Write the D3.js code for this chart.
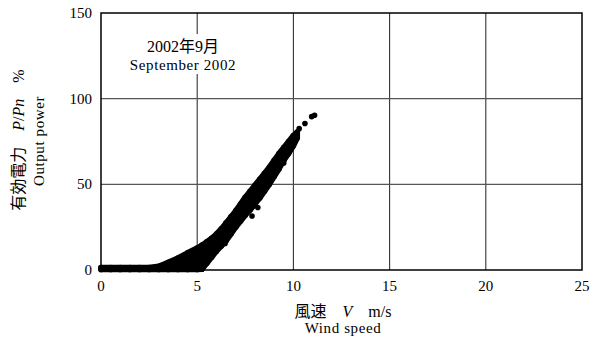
<!DOCTYPE html>
<html>
<head>
<meta charset="utf-8">
<script src="https://cdn.jsdelivr.net/npm/d3@7"></script>
<style>
  body { margin: 0; background: #fff; }
  svg { display: block; }
</style>
</head>
<body>
<div id="chart"></div>
<script>
// wind speed bins (m/s) with the upper and lower edge of the point cloud (% of rated power)
const windSpeed = [0, 0.5, 1, 1.5, 2, 2.5, 3, 3.5, 4, 4.5, 5, 5.25, 5.5, 5.75, 6, 6.25, 6.5, 6.75, 7, 7.25, 7.5, 7.75, 8, 8.25, 8.5, 8.75, 9, 9.25, 9.5, 9.75, 10, 10.2]
const powerUpper = [1.5, 1.5, 1.4, 1.4, 1.4, 1.5, 2.2, 4.5, 7, 10, 12.8, 14.5, 16.5, 18.5, 21, 24, 27.5, 31, 34.5, 38.5, 42.5, 46, 49.5, 53, 56.5, 60, 64, 68, 71.5, 75, 78.5, 80.5]
const powerLower = [0.3, 0.3, 0.3, 0.3, 0.3, 0.3, 0.3, 0.3, 0.3, 0.3, 0.3, 0.5, 4, 7.5, 11, 14, 17, 21, 25, 28.5, 32, 35, 38.5, 42, 46, 50, 54.5, 59, 64, 68, 72.5, 77]

// isolated points just outside the dense cloud
const outlierSpeed = [5.33, 6.45, 7.85, 8.15, 9.5, 10.05, 10.3, 10.6, 10.95, 11.1]
const outlierPower = [2.9, 15.5, 31.5, 36.5, 62.5, 77.5, 82.5, 85.5, 89.5, 90.3]

const xTicks = [0, 5, 10, 15, 20, 25]
const yTicks = [0, 50, 100, 150]

const width = 597
const height = 340
const margin = { top: 13, right: 15, bottom: 70, left: 101 }
const dotRadius = 2.8
const serif = '"Liberation Serif", "Noto Sans CJK JP", serif'

const svg = d3.select('#chart')
  .append('svg')
  .attr('width', width)
  .attr('height', height)
  .style('font-family', serif)

const x = d3.scaleLinear().domain([0, 25]).range([margin.left, width - margin.right])
const y = d3.scaleLinear().domain([0, 150]).range([height - margin.bottom, margin.top])

// grid
svg.append('g')
  .selectAll('line')
  .data(xTicks.slice(1, -1))
  .join('line')
  .attr('x1', (d) => x(d))
  .attr('x2', (d) => x(d))
  .attr('y1', y(150))
  .attr('y2', y(0))
  .attr('stroke', '#333')
  .attr('stroke-width', 1.1)

svg.append('g')
  .selectAll('line')
  .data(yTicks.slice(1, -1))
  .join('line')
  .attr('x1', x(0))
  .attr('x2', x(25))
  .attr('y1', (d) => y(d))
  .attr('y2', (d) => y(d))
  .attr('stroke', '#555')
  .attr('stroke-width', 1.1)

// annotation box hides the grid line behind the text
svg.append('rect')
  .attr('x', 126)
  .attr('y', 34)
  .attr('width', 114)
  .attr('height', 40)
  .attr('fill', '#fff')

svg.append('text')
  .attr('x', 183)
  .attr('y', 52)
  .attr('text-anchor', 'middle')
  .attr('font-size', 16)
  .attr('fill', '#000')
  .text('2002年9月')

svg.append('text')
  .attr('x', 183)
  .attr('y', 70)
  .attr('text-anchor', 'middle')
  .attr('font-size', 15)
  .attr('letter-spacing', 0.6)
  .attr('fill', '#000')
  .text('September 2002')

// point cloud
const cloud = windSpeed.map((v, i) => ({ v, hi: powerUpper[i], lo: powerLower[i] }))

const area = d3.area()
  .x((d) => x(d.v))
  .y0((d) => y(d.lo))
  .y1((d) => y(d.hi))

svg.append('path')
  .datum(cloud)
  .attr('d', area)
  .attr('fill', '#000')
  .attr('stroke', '#000')
  .attr('stroke-width', dotRadius * 2)
  .attr('stroke-linejoin', 'round')

const dots = svg.append('g').attr('fill', '#000')

dots.selectAll('circle.hi')
  .data(cloud)
  .join('circle')
  .attr('class', 'hi')
  .attr('cx', (d) => x(d.v))
  .attr('cy', (d) => y(d.hi))
  .attr('r', dotRadius)

dots.selectAll('circle.lo')
  .data(cloud)
  .join('circle')
  .attr('class', 'lo')
  .attr('cx', (d) => x(d.v))
  .attr('cy', (d) => y(d.lo))
  .attr('r', dotRadius)

dots.selectAll('circle.out')
  .data(outlierSpeed.map((v, i) => ({ v, p: outlierPower[i] })))
  .join('circle')
  .attr('class', 'out')
  .attr('cx', (d) => x(d.v))
  .attr('cy', (d) => y(d.p))
  .attr('r', dotRadius)

// frame
svg.append('rect')
  .attr('x', x(0))
  .attr('y', y(150))
  .attr('width', x(25) - x(0))
  .attr('height', y(0) - y(150))
  .attr('fill', 'none')
  .attr('stroke', '#000')
  .attr('stroke-width', 1.5)

// tick labels
svg.append('g')
  .selectAll('text')
  .data(xTicks)
  .join('text')
  .attr('x', (d) => x(d))
  .attr('y', 291)
  .attr('text-anchor', 'middle')
  .attr('font-size', 15)
  .text((d) => d)

svg.append('g')
  .selectAll('text')
  .data(yTicks)
  .join('text')
  .attr('x', 92)
  .attr('y', (d) => y(d) + 5)
  .attr('text-anchor', 'end')
  .attr('font-size', 15)
  .text((d) => d)

// axis titles
const xTitle = svg.append('text')
  .attr('x', 343)
  .attr('y', 317)
  .attr('text-anchor', 'middle')
  .attr('font-size', 16)
xTitle.append('tspan').text('風速　')
xTitle.append('tspan').attr('font-style', 'italic').text('V')
xTitle.append('tspan').text('　m/s')

svg.append('text')
  .attr('x', 343)
  .attr('y', 333)
  .attr('text-anchor', 'middle')
  .attr('font-size', 15)
  .attr('letter-spacing', 0.6)
  .text('Wind speed')

const yTitle = svg.append('text')
  .attr('transform', 'translate(24,140) rotate(-90)')
  .attr('text-anchor', 'middle')
  .attr('font-size', 16)
yTitle.append('tspan').text('有効電力　')
yTitle.append('tspan').attr('font-style', 'italic').text('P')
yTitle.append('tspan').text('/')
yTitle.append('tspan').attr('font-style', 'italic').text('Pn')
yTitle.append('tspan').text('　%')

svg.append('text')
  .attr('transform', 'translate(44,141) rotate(-90)')
  .attr('text-anchor', 'middle')
  .attr('font-size', 15)
  .attr('letter-spacing', 0.6)
  .text('Output power')
</script>
</body>
</html>
